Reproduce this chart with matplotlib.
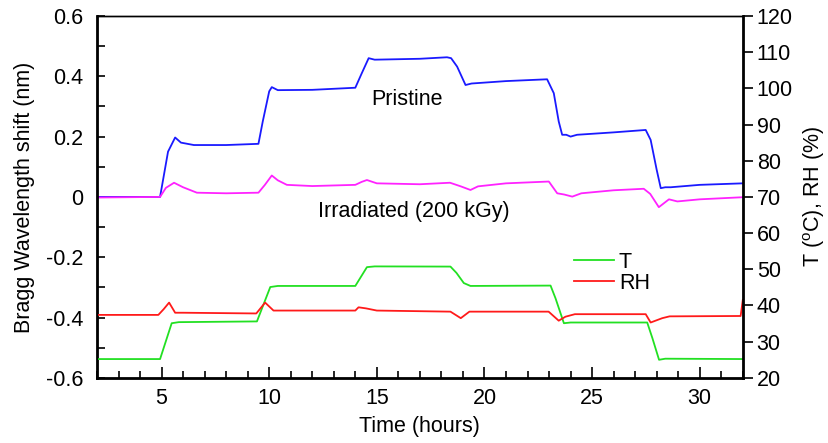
import numpy as np
import matplotlib
matplotlib.use('Agg')
import matplotlib.pyplot as plt
from matplotlib.ticker import MultipleLocator

plt.rcParams['font.family'] = ['Liberation Sans', 'DejaVu Sans']
plt.rcParams['mathtext.fontset'] = 'custom'
plt.rcParams['mathtext.rm'] = 'Liberation Sans'

# Bragg wavelength shift, pristine grating (nm)
t_pri = [2.0, 4.93, 5.3, 5.63, 5.9, 6.5, 8.0, 9.5, 9.7, 10.0, 10.12, 10.4, 12.0, 14.0,
         14.3, 14.62, 14.9, 17.0, 18.26, 18.45, 18.73, 19.12, 19.4, 21.0, 22.91, 23.22,
         23.45, 23.61, 23.8, 24.0, 24.3, 26.0, 27.49, 27.72, 28.0, 28.19, 28.4, 28.65,
         30.0, 32.0]
v_pri = [0.000, 0.000, 0.150, 0.197, 0.180, 0.172, 0.172, 0.176, 0.250, 0.350, 0.364, 0.354,
         0.355, 0.362, 0.410, 0.460, 0.455, 0.458, 0.463, 0.460, 0.432, 0.371, 0.376, 0.384,
         0.390, 0.344, 0.250, 0.206, 0.206, 0.200, 0.206, 0.214, 0.222, 0.189, 0.090, 0.029,
         0.032, 0.032, 0.040, 0.045]

# Bragg wavelength shift, irradiated grating (nm)
t_irr = [2.0, 4.93, 5.2, 5.58, 6.0, 6.64, 8.0, 9.5, 9.8, 10.12, 10.4, 10.82, 12.0, 14.0,
         14.3, 14.54, 15.0, 17.0, 18.4, 18.9, 19.35, 19.7, 21.0, 22.99, 23.2, 23.38, 23.7,
         24.08, 24.5, 26.0, 27.4, 27.7, 28.1, 28.57, 28.96, 30.0, 32.0]
v_irr = [-0.002, 0.000, 0.030, 0.047, 0.032, 0.014, 0.012, 0.014, 0.040, 0.071, 0.055, 0.040,
         0.036, 0.040, 0.050, 0.056, 0.045, 0.042, 0.047, 0.035, 0.023, 0.035, 0.045, 0.051,
         0.030, 0.012, 0.008, 0.001, 0.012, 0.022, 0.027, 0.010, -0.034, -0.008, -0.015,
         -0.008, -0.001]

# temperature (C)
t_T = [2.0, 4.93, 5.47, 5.8, 9.43, 10.05, 10.4, 14.0, 14.54, 14.9, 18.42, 18.7, 19.04, 19.35,
       23.07, 23.3, 23.69, 24.0, 27.56, 27.8, 28.11, 28.4, 32.0]
v_T = [25.2, 25.2, 35.1, 35.4, 35.6, 45.1, 45.4, 45.4, 50.6, 50.8, 50.75, 49.0, 46.2, 45.4,
       45.5, 42.0, 35.1, 35.3, 35.3, 31.0, 25.0, 25.3, 25.2]

# relative humidity (%)
t_RH = [2.0, 4.85, 5.1, 5.35, 5.63, 6.0, 9.4, 9.81, 10.2, 14.0, 14.15, 14.5, 15.0, 18.42,
        18.9, 19.3, 22.98, 23.45, 23.76, 24.2, 27.49, 27.72, 28.26, 28.6, 31.9, 32.0]
v_RH = [37.4, 37.4, 39.0, 40.8, 38.0, 38.0, 37.8, 40.8, 38.6, 38.6, 39.5, 39.2, 38.6, 38.3,
        36.5, 38.3, 38.3, 35.8, 36.9, 37.6, 37.6, 35.3, 36.5, 37.0, 37.1, 41.5]

fs = 15.5

fig = plt.figure(figsize=(8.29, 4.43), dpi=100)
ax = fig.add_axes([0.117, 0.147, 0.779, 0.817])
ax2 = ax.twinx()

ax.plot(t_pri, v_pri, color='#1a1aff', lw=1.3)
ax.plot(t_irr, v_irr, color='#ff22ff', lw=1.3)
ax2.plot(t_T, v_T, color='#22e022', lw=1.3, label='T')
ax2.plot(t_RH, v_RH, color='#ff1a1a', lw=1.3, label='RH')

ax.set_xlim(2, 32)
ax.set_ylim(-0.6, 0.6)
ax2.set_ylim(20, 120)

ax.xaxis.set_major_locator(MultipleLocator(5))
ax.xaxis.set_minor_locator(MultipleLocator(1))
ax.yaxis.set_major_locator(MultipleLocator(0.2))
ax.yaxis.set_minor_locator(MultipleLocator(0.1))
ax2.yaxis.set_major_locator(MultipleLocator(10))
ax.yaxis.set_major_formatter(plt.FuncFormatter(lambda v, p: '0' if abs(v) < 1e-9 else f'{v:.1f}'))

ax.tick_params(axis='x', which='major', direction='in', length=8, width=1.2, labelsize=fs, pad=7,
               top=False)
ax.tick_params(axis='x', which='minor', direction='in', length=5, width=1.2, top=False)
ax.tick_params(axis='y', which='both', direction='in', length=6, width=1.2, labelsize=fs,
               right=False, pad=10)
ax2.tick_params(axis='y', which='major', direction='out', length=7, width=1.2, labelsize=fs, pad=3)

for s in ['left', 'bottom']:
    ax.spines[s].set_linewidth(2.0)
ax.spines['top'].set_linewidth(1.0)
ax2.spines['right'].set_linewidth(2.0)
ax2.spines['top'].set_linewidth(1.0)

ax.set_xlabel('Time (hours)', fontsize=fs, labelpad=5)
ax.set_ylabel('Bragg Wavelength shift (nm)', fontsize=fs, labelpad=8)
ax2.set_ylabel(r'T ($^{\rm o}$C), RH (%)', fontsize=fs, labelpad=6)

ax.text(16.4, 0.322, 'Pristine', fontsize=fs, ha='center', va='center')
ax.text(16.7, -0.05, 'Irradiated (200 kGy)', fontsize=fs, ha='center', va='center')

ax2.legend(loc='center left', bbox_to_anchor=(0.738, 0.29), frameon=False, fontsize=fs,
           handlelength=1.9, handletextpad=0.2, labelspacing=0.0, borderaxespad=0,
           borderpad=0)

fig.savefig('out.png', dpi=100)
